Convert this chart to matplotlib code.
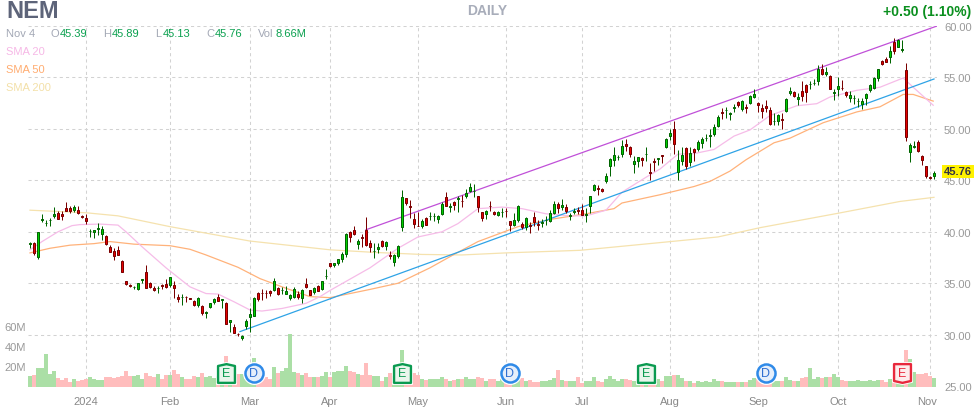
import matplotlib
matplotlib.use("Agg")
import matplotlib.pyplot as plt
from matplotlib.path import Path
from matplotlib.transforms import ScaledTranslation

plt.rcParams['font.family'] = ['Liberation Sans', 'DejaVu Sans']

# daily candles, one row = ten sessions
opens = [38.85, 38.95, 37.55, 41.1, 40.85, 41.1, 41.5, 41.85, 41.75, 42.3,
         42.3, 42.1, 42.1, 41.5, 41.3, 40.05, 40.0, 40.25, 39.75, 39.6,
         38.55, 38.1, 38.2, 37.2, 35.2, 34.85, 34.6, 34.4, 35.35, 36.05,
         35.05, 34.55, 34.5, 34.8, 34.9, 34.8, 34.8, 33.7, 33.65, 33.7,
         33.55, 33.3, 32.9, 32.8, 32.1, 32.7, 33.15, 33.7, 33.35, 33.05,
         31.2, 30.75, 30.1, 29.7, 30.8, 31.7, 31.85, 34.1, 34.1, 34.1,
         34.2, 34.3, 34.55, 34.3, 33.95, 33.55, 33.7, 34.0, 33.55, 34.9,
         34.3, 34.15, 34.75, 34.4, 35.7, 36.95, 36.75, 36.95, 37.4, 37.85,
         40.0, 40.2, 38.8, 39.45, 40.15, 38.95, 38.1, 38.35, 39.1, 38.6,
         37.7, 37.1, 37.6, 40.45, 43.25, 42.55, 41.2, 40.6, 40.6, 41.3,
         41.5, 41.5, 41.2, 41.7, 43.35, 42.45, 42.85, 43.2, 43.0, 43.5,
         43.95, 43.95, 43.45, 41.9, 41.7, 42.55, 41.9, 41.6, 41.9, 42.05,
         41.05, 40.7, 41.1, 40.75, 40.5, 40.65, 41.45, 40.75, 40.9, 41.1,
         41.05, 41.85, 42.7, 42.4, 42.45, 41.55, 41.95, 42.1, 42.15, 41.65,
         42.5, 44.1, 44.3, 44.2, 44.9, 46.35, 47.0, 47.25, 47.55, 48.5,
         48.25, 46.6, 46.85, 47.2, 47.55, 45.8, 46.85, 47.1, 47.45, 48.25,
         49.3, 49.95, 45.85, 46.85, 48.15, 46.75, 48.0, 48.0, 48.65, 49.1,
         49.35, 49.5, 50.3, 51.6, 51.8, 51.45, 52.0, 52.6, 51.9, 52.1,
         52.5, 53.1, 52.55, 52.0, 52.25, 51.8, 50.75, 50.8, 50.95, 51.75,
         53.45, 53.55, 52.9, 53.7, 54.3, 54.35, 54.45, 54.7, 55.8, 55.3,
         55.15, 53.5, 53.85, 54.0, 53.6, 53.0, 53.0, 52.7, 52.45, 53.05,
         53.75, 54.0, 54.9, 56.6, 56.8, 56.95, 58.4, 58.0, 57.7, 55.75,
         47.8, 48.25, 48.75, 47.4, 46.35, 45.3, 45.39]
highs = [39.05, 39.0, 40.0, 41.75, 41.1, 41.3, 42.4, 42.0, 42.0, 42.9,
         42.55, 42.65, 42.5, 41.6, 41.75, 40.3, 40.2, 40.9, 40.6, 39.65,
         38.75, 38.45, 38.6, 37.25, 35.2, 34.9, 34.75, 35.05, 35.45, 36.8,
         35.1, 34.75, 34.7, 34.9, 35.4, 35.65, 35.2, 34.0, 34.0, 33.8,
         33.6, 33.4, 33.7, 32.9, 32.35, 33.1, 33.55, 34.0, 33.5, 33.2,
         31.45, 31.0, 30.2, 30.0, 31.5, 32.6, 33.7, 34.15, 34.4, 34.3,
         34.3, 35.5, 34.6, 34.65, 34.7, 33.95, 34.6, 34.2, 34.4, 35.5,
         34.35, 34.6, 34.85, 35.25, 36.4, 37.0, 37.0, 37.4, 38.0, 39.85,
         40.1, 40.55, 39.3, 39.8, 41.4, 39.2, 38.9, 38.9, 39.2, 39.1,
         38.1, 37.8, 38.7, 44.05, 43.3, 43.1, 41.8, 41.9, 41.2, 41.45,
         41.95, 41.85, 41.65, 42.9, 43.9, 42.8, 43.0, 43.5, 43.6, 44.2,
         44.7, 44.6, 43.45, 41.95, 42.1, 42.95, 42.0, 42.0, 42.3, 42.35,
         41.05, 41.8, 42.6, 41.0, 41.4, 41.0, 41.9, 41.1, 41.2, 41.5,
         42.1, 43.0, 42.9, 43.15, 42.7, 41.8, 42.3, 42.45, 42.7, 42.3,
         43.5, 44.6, 44.5, 44.3, 45.75, 47.2, 48.2, 47.5, 48.9, 49.0,
         48.3, 47.4, 47.3, 47.3, 48.25, 46.7, 47.2, 47.2, 47.5, 49.1,
         50.0, 50.8, 47.95, 48.2, 48.2, 48.2, 48.1, 48.95, 49.2, 49.5,
         50.0, 50.5, 51.35, 52.0, 52.1, 51.65, 52.4, 52.7, 52.8, 52.4,
         53.3, 53.9, 52.65, 52.45, 52.85, 52.1, 51.5, 51.4, 51.5, 53.0,
         54.1, 53.7, 53.5, 54.7, 54.4, 54.7, 54.85, 56.2, 56.3, 56.0,
         55.2, 53.85, 55.0, 54.75, 53.65, 53.65, 53.3, 53.0, 53.0, 53.5,
         54.4, 55.0, 55.85, 56.7, 57.0, 58.1, 58.8, 58.7, 58.6, 56.4,
         48.65, 48.8, 48.95, 47.5, 46.4, 45.4, 45.89]
lows = [38.4, 37.7, 37.4, 41.0, 40.6, 40.55, 41.3, 41.2, 41.1, 42.05,
        41.85, 41.95, 41.75, 41.3, 40.8, 39.5, 39.35, 39.7, 39.2, 38.7,
        38.05, 37.3, 37.75, 36.1, 34.85, 34.6, 34.4, 34.3, 35.0, 34.55,
        34.55, 34.25, 34.1, 34.4, 34.5, 34.6, 33.6, 33.2, 32.9, 33.2,
        33.45, 32.8, 32.7, 31.9, 31.6, 32.6, 33.0, 33.25, 32.6, 31.05,
        30.25, 30.15, 29.85, 29.45, 30.55, 30.25, 31.85, 33.3, 33.4, 33.6,
        33.8, 34.2, 33.9, 34.0, 33.95, 33.4, 33.6, 33.5, 33.1, 34.5,
        33.9, 34.0, 34.2, 34.3, 35.4, 36.6, 36.6, 36.8, 37.1, 37.55,
        39.0, 39.65, 38.3, 38.55, 38.65, 38.0, 37.5, 37.9, 38.55, 38.2,
        37.4, 36.7, 37.5, 40.05, 42.6, 41.35, 40.4, 40.55, 40.4, 40.7,
        41.1, 41.05, 40.9, 41.6, 42.55, 41.9, 42.1, 41.9, 42.45, 43.3,
        43.9, 43.4, 41.9, 41.05, 41.2, 42.0, 41.6, 41.5, 41.4, 41.4,
        40.1, 40.6, 41.0, 40.3, 40.15, 39.9, 40.6, 40.2, 40.5, 40.7,
        41.0, 41.7, 41.8, 42.1, 41.8, 41.1, 41.7, 41.7, 41.6, 41.0,
        41.8, 44.0, 43.6, 43.85, 44.75, 45.4, 46.4, 47.0, 47.3, 47.9,
        47.3, 45.7, 46.3, 46.4, 46.9, 45.0, 45.95, 46.5, 46.7, 48.1,
        48.9, 47.55, 45.05, 46.5, 46.15, 46.35, 46.9, 47.9, 48.15, 48.8,
        48.25, 49.3, 50.2, 51.0, 51.1, 50.9, 51.6, 52.1, 51.7, 51.5,
        52.4, 53.0, 51.6, 51.1, 51.6, 50.4, 50.4, 50.4, 49.95, 51.6,
        53.3, 53.1, 52.3, 52.7, 52.6, 53.9, 54.3, 54.3, 55.2, 55.15,
        53.85, 52.8, 53.2, 53.8, 53.1, 52.6, 52.4, 52.1, 51.9, 52.35,
        53.6, 53.9, 54.7, 56.25, 56.5, 56.45, 57.3, 57.95, 57.5, 48.8,
        46.8, 48.1, 47.8, 46.5, 45.25, 45.1, 45.13]
closes = [38.95, 37.9, 40.0, 41.2, 40.9, 41.15, 41.75, 41.2, 41.5, 42.05,
          42.0, 42.45, 41.8, 41.45, 41.05, 40.1, 40.15, 40.4, 40.3, 38.8,
          38.05, 37.65, 37.75, 36.1, 34.9, 34.75, 34.65, 35.0, 35.4, 34.55,
          34.65, 34.35, 34.55, 34.7, 34.65, 35.6, 34.5, 33.45, 33.7, 33.65,
          33.5, 32.9, 33.6, 32.1, 32.2, 33.1, 33.45, 33.3, 33.45, 31.05,
          31.4, 30.2, 30.05, 29.9, 31.3, 32.0, 33.55, 33.45, 34.05, 34.05,
          34.1, 35.25, 33.95, 34.35, 34.25, 33.85, 34.4, 33.7, 34.3, 34.6,
          33.9, 34.5, 34.2, 35.2, 35.75, 36.65, 36.95, 37.35, 37.8, 39.75,
          39.5, 39.8, 39.15, 39.35, 38.7, 38.55, 38.15, 38.55, 38.65, 39.05,
          37.65, 37.75, 38.65, 43.35, 42.8, 42.4, 40.75, 40.55, 41.05, 40.7,
          41.55, 41.55, 41.55, 42.7, 42.55, 42.5, 42.6, 43.25, 42.95, 43.75,
          44.4, 44.0, 42.45, 41.3, 42.0, 42.5, 41.7, 41.9, 41.95, 42.0,
          40.65, 41.1, 42.5, 40.5, 41.35, 40.6, 41.0, 40.7, 40.95, 41.15,
          41.85, 42.75, 42.35, 42.65, 42.0, 41.6, 42.0, 42.05, 41.65, 41.7,
          43.45, 44.5, 44.2, 43.95, 45.4, 47.1, 47.5, 47.3, 48.35, 48.3,
          47.55, 46.9, 47.25, 47.0, 47.6, 45.75, 46.8, 47.15, 47.4, 49.05,
          49.65, 48.55, 47.0, 47.5, 46.4, 47.7, 47.8, 48.75, 49.0, 49.15,
          49.4, 50.2, 51.2, 51.55, 51.85, 51.5, 52.1, 52.35, 52.7, 52.05,
          53.2, 53.4, 52.3, 51.7, 52.0, 50.45, 50.8, 51.35, 50.9, 52.9,
          53.7, 53.2, 53.1, 53.2, 53.55, 54.4, 54.5, 55.85, 55.3, 55.5,
          53.9, 53.55, 54.2, 53.95, 53.3, 53.25, 53.05, 52.75, 52.7, 53.4,
          54.3, 54.9, 55.8, 56.35, 56.55, 57.6, 57.6, 58.6, 57.75, 49.2,
          48.4, 48.3, 47.85, 47.0, 45.45, 45.26, 45.76]
volumes = [11, 12, 19, 19, 33, 13, 16, 9, 7, 9,
           5, 8, 6, 7, 8, 10, 8, 7, 7, 10,
           10, 9, 10, 11, 16, 11, 11, 12, 8, 14,
           11, 10, 13, 8, 12, 12, 17, 13, 10, 8,
           8, 11, 10, 14, 10, 11, 9, 11, 13, 31,
           23, 23, 13, 13, 8, 11, 29, 13, 8, 10,
           8, 20, 14, 16, 19, 53, 15, 14, 12, 14,
           10, 10, 10, 11, 15, 10, 15, 16, 16, 21,
           16, 15, 13, 12, 24, 12, 11, 11, 6, 10,
           14, 11, 11, 37, 13, 8, 14, 12, 8, 7,
           8, 8, 8, 10, 8, 6, 7, 8, 8, 10,
           8, 8, 10, 9, 6, 8, 8, 6, 8, 8,
           5, 8, 8, 9, 6, 7, 5, 5, 6, 6,
           7, 9, 17, 7, 6, 6, 6, 10, 4, 6,
           6, 10, 6, 5, 8, 11, 8, 6, 8, 8,
           7, 6, 8, 8, 8, 6, 8, 8, 6, 11,
           11, 12, 12, 9, 6, 6, 4, 6, 5, 6,
           5, 8, 6, 6, 5, 5, 5, 5, 5, 5,
           7, 9, 8, 5, 5, 5, 6, 6, 6, 10,
           7, 6, 6, 9, 10, 19, 8, 10, 9, 10,
           10, 13, 10, 7, 6, 6, 6, 7, 6, 6,
           7, 6, 7, 7, 5, 8, 5, 5, 6, 37,
           28, 15, 13, 13, 14, 11, 9]

sma20_x = [0, 3, 7, 10.5, 12.5, 17.5, 22, 24, 28, 34, 40, 44, 47, 51, 55, 58, 63, 69, 72.5, 75,
           85, 92, 97, 103, 107, 112, 118, 123, 129, 135, 139, 144, 148, 154, 157.5,
           162, 166, 171, 176, 180, 185, 191.7, 196.7, 200, 206.7, 212.5, 218.3, 220.8, 225.8]
sma20_y = [38.25, 39.05, 40.0, 40.6, 40.7, 40.75, 40.65, 40.0, 38.55, 36.5, 34.65, 34.0, 33.95, 33.2, 32.4, 32.3, 32.55, 33.05, 33.7, 34.3,
           36.5, 38.4, 39.5, 40.0, 40.8, 42.25, 42.4, 42.25, 41.75, 41.55, 41.55, 42.1, 43.85, 45.3, 46.1,
           47.55, 47.6, 48.0, 49.3, 49.9, 51.3, 52.25, 52.45, 53.1, 53.75, 54.05, 54.95, 54.05, 52.3]
sma50_x = [0, 5, 10, 16, 20, 26, 35, 40, 44, 52, 57.5, 63, 70, 75, 85, 92, 100, 106, 112, 122, 130, 139,
           146, 148, 157.5, 166, 170, 175, 179, 186, 190, 198.3, 206.7, 212.5, 218.3, 220.8, 225.8]
sma50_y = [37.95, 38.4, 38.7, 38.85, 39.05, 38.8, 38.65, 38.3, 37.75, 36.55, 35.45, 34.65, 33.7, 33.6, 34.4, 35.0, 36.5, 37.8, 39.05, 40.5, 41.2, 41.75,
           42.25, 42.8, 43.6, 44.4, 44.9, 45.9, 47.0, 48.65, 49.1, 50.6, 51.65, 52.15, 53.35, 53.35, 52.7]
sma200_x = [0, 14, 22, 35, 55, 75, 86, 98, 108, 119, 137.5, 157.5, 172, 182.5, 202, 217.5, 226]
sma200_y = [42.1, 41.85, 41.55, 40.5, 39.1, 38.25, 38.0, 37.8, 37.75, 37.95, 38.2, 38.95, 39.5, 40.4, 41.8, 42.95, 43.35]

# drawn trend lines
channel_x = [84, 226.75]
channel_y = [40.2, 60.0]
support_x = [52.5, 226]
support_y = [30.3, 54.85]

month_ticks = [14, 35, 55, 75, 97, 119, 138, 160, 182, 202, 225]
month_labels = ['2024', 'Feb', 'Mar', 'Apr', 'May', 'Jun', 'Jul', 'Aug', 'Sep', 'Oct', 'Nov']
price_ticks = [25, 30, 35, 40, 45, 50, 55, 60]
vol_ticks = [20, 40, 60]
vol_labels = ['20M', '40M', '60M']

earnings_x = [49, 93, 154, 218]
earnings_beat = [True, True, True, False]
dividend_x = [56, 120, 184]

W, H = 980, 410
LEFT, RIGHT, TOP, BOTTOM = 28, 937, 27, 388

fig = plt.figure(figsize=(W / 100, H / 100), dpi=100)
ax = fig.add_axes([LEFT / W, 1 - BOTTOM / H, (RIGHT - LEFT) / W, (BOTTOM - TOP) / H])
ax.set_xlim(-0.5, 226.75)
ax.set_ylim(60 - (BOTTOM - TOP) / 10.29, 60)
for s in ax.spines.values():
    s.set_visible(False)

ax.set_xticks(month_ticks)
ax.set_xticklabels(month_labels, fontsize=8, color='#888888')
ax.set_yticks(price_ticks)
ax.set_yticklabels(['%.2f' % p for p in price_ticks], fontsize=8, color='#999999')
ax.yaxis.tick_right()
ax.tick_params(axis='both', length=0)
ax.tick_params(axis='x', pad=6.5)
ax.tick_params(axis='y', pad=5)
ax.grid(True, color='#d2d2d2', linestyle=(0, (3, 3)), linewidth=0.75, zorder=0)
ax.set_axisbelow(True)
# no rule at the 25 level, it would run through the volume bars
ax.yaxis.get_gridlines()[0].set_visible(False)
nov = ax.get_xticklabels()[-1]
nov.set_transform(nov.get_transform() + ScaledTranslation(-3 / 100, 0, fig.dpi_scale_trans))

ax.plot(sma200_x, sma200_y, color='#f5e2ae', lw=0.9, zorder=2)
ax.plot(sma50_x, sma50_y, color='#ffb27a', lw=0.9, zorder=2)
ax.plot(sma20_x, sma20_y, color='#f6bce8', lw=0.9, zorder=2)
ax.plot(channel_x, channel_y, color='#c050d8', lw=0.9, zorder=3)
ax.plot(support_x, support_y, color='#2ea3e6', lw=0.9, zorder=3)

xs = list(range(len(closes)))
up = [c >= o for o, c in zip(opens, closes)]

# candles
for i in xs:
    o, h, l, c = opens[i], highs[i], lows[i], closes[i]
    edge = '#006400' if up[i] else '#7a0000'
    fill = '#00d000' if up[i] else '#e60000'
    ax.vlines(i, l, h, color=edge, lw=0.72, zorder=4)
    ax.bar(i, abs(c - o), bottom=min(o, c), width=0.7, color=fill, edgecolor=edge, linewidth=0.72, zorder=5)

# volume sits over the grid, 1 px is about 1M
vax = fig.add_axes(ax.get_position())
vax.set_xlim(ax.get_xlim())
vax.set_ylim(0, BOTTOM - TOP)
vax.axis('off')
vax.bar(xs, volumes, width=1.0, color=['#abdfa6' if u else '#ffbdbd' for u in up], linewidth=0)

# event flags sit on the volume band
flag_y = 14
house = Path([(-0.9, -1), (-0.9, 0.8), (0, 1), (0.9, 0.8), (0.9, -1), (-0.9, -1)], closed=True)
shield = Path([(-0.9, 1), (0.9, 1), (0.9, -0.8), (0, -1), (-0.9, -0.8), (-0.9, 1)], closed=True)
for x, good in zip(earnings_x, earnings_beat):
    col = '#0a9a50' if good else '#e8283c'
    mark = house if good else shield
    vax.plot(x, flag_y, marker=mark, ms=15.5, mfc='white', mec='white', mew=1, zorder=6, clip_on=False)
    vax.plot(x, flag_y, marker=mark, ms=13.5, mfc='#e9f6ec' if good else '#fdecec', mec=col,
             mew=1.7, zorder=7, clip_on=False)
    vax.text(x, flag_y, 'E', fontsize=9, color=col, ha='center', va='center', zorder=8)
for x in dividend_x:
    vax.plot(x, flag_y, marker='o', ms=15.5, mfc='white', mec='white', mew=1, zorder=6, clip_on=False)
    vax.plot(x, flag_y, marker='o', ms=13, mfc='#e6effb', mec='#2f8ae8', mew=1.8, zorder=7, clip_on=False)
    vax.text(x, flag_y, 'D', fontsize=9, color='#2f6fd0', ha='center', va='center', zorder=8)


def px_text(x, y, s, **kw):
    # place text in figure pixels, top-left origin
    fig.text(x / W, 1 - y / H, s, va='center', zorder=10, **kw)


for tick, lab in zip(vol_ticks, vol_labels):
    px_text(26, BOTTOM - tick, lab, ha='right', fontsize=8, color='#999999')

px_text(6, 11.5, 'NEM', fontsize=17, fontweight='bold', color='#5d6479')
px_text(487, 11, 'DAILY', ha='center', fontsize=10, fontweight='bold', color='#a8adba')
px_text(971, 12, '+0.50 (1.10%)', ha='right', fontsize=10, fontweight='bold', color='#0a8f1e')

GRAY = '#a3a8b5'
GREEN = '#0aa04f'
row = [(6, 'Nov 4', GRAY), (50, 'O', GRAY), (60, '45.39', GREEN), (103, 'H', GRAY), (112, '45.89', GREEN),
       (155, 'L', GRAY), (163, '45.13', GREEN), (206, 'C', GRAY), (215, '45.76', GREEN),
       (258, 'Vol', GRAY), (275, '8.66M', GREEN)]
for x, s, col in row:
    px_text(x, 34, s, fontsize=8, color=col)
px_text(6, 52, 'SMA 20', fontsize=8, color='#f6b8e6')
px_text(6, 70, 'SMA 50', fontsize=8, color='#ffac70')
px_text(6, 88, 'SMA 200', fontsize=8, color='#f3e0a8')

px_text(944, 172.5, '45.76', fontsize=8, fontweight='bold', color='#333344',
        bbox=dict(boxstyle='square,pad=0.15', fc='#fff200', ec='none'))

fig.savefig('out.png', dpi=100)
